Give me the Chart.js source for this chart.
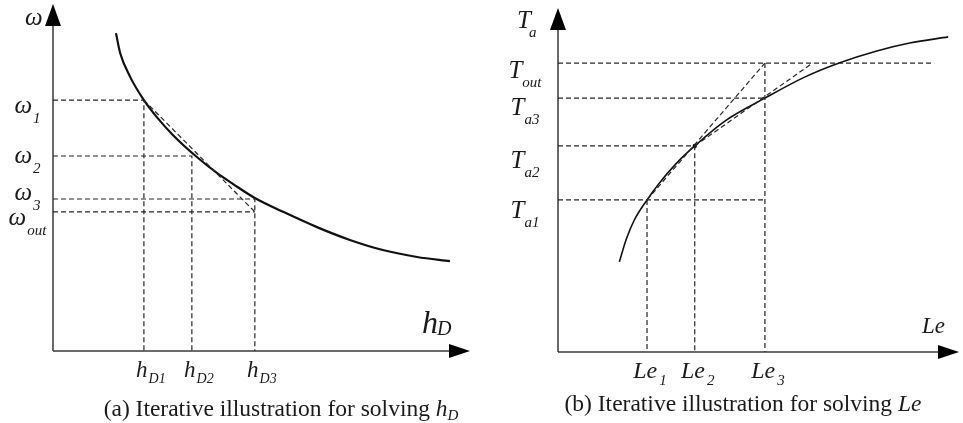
<!DOCTYPE html>
<html>
<head>
<meta charset="utf-8">
<script src="https://cdn.jsdelivr.net/npm/chart.js@4/dist/chart.umd.min.js"></script>
<style>
  html, body { margin: 0; padding: 0; background: #fff; }
  #wrap { position: relative; width: 963px; height: 423px; overflow: hidden; }
  .panel { position: absolute; top: 0; }
</style>
</head>
<body>
<div id="wrap">
  <div class="panel" style="left:0;width:480px;height:423px"><canvas id="chartA" width="480" height="423"></canvas></div>
  <div class="panel" style="left:480px;width:483px;height:423px"><canvas id="chartB" width="483" height="423"></canvas></div>
</div>
<script>
// ---- Panel (a): ω falling with h_D ----
const hdCurveX = [1.51, 1.61, 1.85, 2.18, 2.49, 2.88, 3.45, 3.93, 4.32, 4.84, 5.52, 6.33, 7.12, 7.91, 8.73, 9.52];
const hdCurveY = [9.16, 8.59, 7.90, 7.23, 6.74, 6.22, 5.59, 5.13, 4.81, 4.41, 4.01, 3.57, 3.20, 2.91, 2.71, 2.59];
const hdSteps = [2.18, 3.33, 4.84];            // h_D1, h_D2, h_D3
const omegaSteps = [7.23, 5.62, 4.38, 4.01];   // ω1, ω2, ω3, ω_out
const hdTickSubs = ['D1', 'D2', 'D3'];
const omegaTickSubs = ['1', '2', '3', 'out'];

// ---- Panel (b): T_a rising with Le ----
const leCurveX = [1.53, 1.70, 1.90, 2.22, 2.52, 2.94, 3.41, 4.17, 5.16, 6.15, 7.01, 7.95, 8.77, 9.73];
const leCurveY = [2.62, 3.27, 3.83, 4.42, 4.90, 5.47, 5.99, 6.72, 7.38, 7.99, 8.40, 8.75, 8.98, 9.16];
const leSteps = [2.22, 3.41, 5.16];            // Le1, Le2, Le3
const taSteps = [4.42, 5.99, 7.38, 8.40];      // T_a1, T_a2, T_a3, T_out
const leTickSubs = ['1', '2', '3'];
const taTickSubs = ['a1', 'a2', 'a3', 'out'];
const toutGuideEnd = 9.38;    // right end of the T_out guide
const secant2End = 6.35;      // where the second secant reaches T_out

const SERIF = '"Liberation Serif", "Times New Roman", serif';
const INK = '#1a1a1a';

const pts = (xs, ys) => xs.map((x, i) => ({ x, y: ys[i] }));
const P = (x, y) => ({ x, y });

function curveSet(data, width) {
  return { data, showLine: true, borderColor: '#111', borderWidth: width, pointRadius: 0,
           cubicInterpolationMode: 'monotone', clip: false };
}
function guideSet(data) {
  return { data, showLine: true, borderColor: '#262626', borderWidth: 1.2, borderDash: [5, 3],
           pointRadius: 0, tension: 0, clip: false };
}

function drawAxes(chart) {
  const { ctx, chartArea: a, scales } = chart;
  const x0 = scales.x.getPixelForValue(0), y0 = scales.y.getPixelForValue(0);
  ctx.save();
  ctx.strokeStyle = '#3a3a3a';
  ctx.lineWidth = 1.5;
  ctx.beginPath();
  ctx.moveTo(x0, y0); ctx.lineTo(x0, a.top + 18);
  ctx.moveTo(x0, y0); ctx.lineTo(a.right - 18, y0);
  ctx.stroke();
  ctx.fillStyle = '#000';
  ctx.beginPath();
  ctx.moveTo(x0, a.top); ctx.lineTo(x0 - 8, a.top + 22); ctx.lineTo(x0 + 8, a.top + 22);
  ctx.closePath(); ctx.fill();
  ctx.beginPath();
  ctx.moveTo(a.right, y0); ctx.lineTo(a.right - 21, y0 - 7); ctx.lineTo(a.right - 21, y0 + 7);
  ctx.closePath(); ctx.fill();
  ctx.restore();
}

// base glyph followed by a lowered subscript, centred on cx
function subLabel(ctx, base, sub, cx, baseY, subDy, baseSize, subSize, gap) {
  gap = gap || 0;
  ctx.font = 'italic ' + baseSize + 'px ' + SERIF;
  const wb = ctx.measureText(base).width;
  ctx.font = 'italic ' + subSize + 'px ' + SERIF;
  const ws = ctx.measureText(sub).width;
  const left = cx - (wb + gap + ws) / 2;
  ctx.font = 'italic ' + baseSize + 'px ' + SERIF;
  ctx.fillText(base, left, baseY);
  ctx.font = 'italic ' + subSize + 'px ' + SERIF;
  ctx.fillText(sub, left + wb + gap, baseY + subDy);
}

function caption(ctx, plain, ital, sub, cx, baseY) {
  const size = 23.5;
  ctx.font = size + 'px ' + SERIF;
  const w1 = ctx.measureText(plain).width;
  ctx.font = 'italic ' + size + 'px ' + SERIF;
  const w2 = ctx.measureText(ital).width;
  ctx.font = 'italic 15px ' + SERIF;
  const w3 = sub ? ctx.measureText(sub).width : 0;
  let x = cx - (w1 + w2 + w3) / 2;
  ctx.font = size + 'px ' + SERIF; ctx.fillText(plain, x, baseY); x += w1;
  ctx.font = 'italic ' + size + 'px ' + SERIF; ctx.fillText(ital, x, baseY); x += w2;
  if (sub) { ctx.font = 'italic 15px ' + SERIF; ctx.fillText(sub, x, baseY + 4); }
}

const axesPlugin = { id: 'arrowAxes', beforeDatasetsDraw: drawAxes };

const labelsA = {
  id: 'labelsA',
  afterDatasetsDraw(chart) {
    const { ctx, scales } = chart;
    const x0 = scales.x.getPixelForValue(0), y0 = scales.y.getPixelForValue(0);
    ctx.save();
    ctx.fillStyle = INK;
    ctx.textBaseline = 'alphabetic';
    const nudge = [13, 7, 1, 13];
    omegaSteps.forEach((v, i) => {
      subLabel(ctx, 'ω', omegaTickSubs[i], x0 - 25.5, scales.y.getPixelForValue(v) + nudge[i], 10, 25, 15, 1);
    });
    hdSteps.forEach((v, i) => {
      subLabel(ctx, 'h', hdTickSubs[i], scales.x.getPixelForValue(v) + 7, y0 + 26, 6, 23, 14, 1);
    });
    ctx.font = 'italic 25px ' + SERIF;
    ctx.fillText('ω', x0 - 28, 25);
    ctx.font = 'italic 32px ' + SERIF;
    ctx.fillText('h', 422, 333);
    ctx.font = 'italic 20px ' + SERIF;
    ctx.fillText('D', 437, 335);
    caption(ctx, '(a) Iterative illustration for solving ', 'h', 'D', 281, 416);
    ctx.restore();
  }
};

const labelsB = {
  id: 'labelsB',
  afterDatasetsDraw(chart) {
    const { ctx, scales } = chart;
    const x0 = scales.x.getPixelForValue(0), y0 = scales.y.getPixelForValue(0);
    ctx.save();
    ctx.fillStyle = INK;
    ctx.textBaseline = 'alphabetic';
    const nudge = [18, 22, 17, 15];
    taSteps.forEach((v, i) => {
      subLabel(ctx, 'T', taTickSubs[i], x0 - 33, scales.y.getPixelForValue(v) + nudge[i], 9, 25, 15);
    });
    leSteps.forEach((v, i) => {
      subLabel(ctx, 'Le', leTickSubs[i], scales.x.getPixelForValue(v) + 3, y0 + 26, 7, 24, 15, 2);
    });
    ctx.font = 'italic 25px ' + SERIF;
    ctx.fillText('T', x0 - 41, 28);
    ctx.font = 'italic 15px ' + SERIF;
    ctx.fillText('a', x0 - 29, 37);
    ctx.font = 'italic 23px ' + SERIF;
    ctx.fillText('Le', 442, 333);
    caption(ctx, '(b) Iterative illustration for solving ', 'Le', '', 263, 411);
    ctx.restore();
  }
};

function baseOptions(padding) {
  return {
    responsive: false,
    animation: false,
    events: [],
    devicePixelRatio: 1,
    layout: { padding },
    scales: {
      x: { type: 'linear', min: 0, max: 10, display: false },
      y: { type: 'linear', min: 0, max: 10, display: false }
    },
    plugins: { legend: { display: false }, tooltip: { enabled: false } }
  };
}

// ---- panel (a) ----
const [h1, h2, h3] = hdSteps;
const [w1, w2, w3, wOut] = omegaSteps;
new Chart(document.getElementById('chartA'), {
  type: 'scatter',
  data: {
    datasets: [
      guideSet([P(0, w1), P(h1, w1), P(h1, 0)]),
      guideSet([P(0, w2), P(h2, w2), P(h2, 0)]),
      guideSet([P(0, w3), P(h3, w3), P(h3, 0)]),
      guideSet([P(0, wOut), P(h3, wOut)]),
      guideSet([P(h1, w1), P(h3, wOut)]),
      curveSet(pts(hdCurveX, hdCurveY), 2.2)
    ]
  },
  options: baseOptions({ left: 53, right: 10, top: 4, bottom: 72 }),
  plugins: [axesPlugin, labelsA]
});

// ---- panel (b) ----
const [l1, l2, l3] = leSteps;
const [t1, t2, t3, tOut] = taSteps;
new Chart(document.getElementById('chartB'), {
  type: 'scatter',
  data: {
    datasets: [
      guideSet([P(0, t1), P(l3, t1)]),
      guideSet([P(l1, t1), P(l1, 0)]),
      guideSet([P(0, t2), P(l2, t2), P(l2, 0)]),
      guideSet([P(0, t3), P(l3, t3)]),
      guideSet([P(0, tOut), P(toutGuideEnd, tOut)]),
      guideSet([P(l3, tOut), P(l3, 0)]),
      guideSet([P(l1, t1), P(l3, tOut)]),
      guideSet([P(l2, t2), P(secant2End, tOut)]),
      curveSet(pts(leCurveX, leCurveY), 1.6),
      { data: [P(l2, t2)], showLine: false, pointRadius: 2.2, pointBackgroundColor: '#111',
        pointBorderWidth: 0, clip: false }
    ]
  },
  options: baseOptions({ left: 78, right: 0, top: 8, bottom: 71 }),
  plugins: [axesPlugin, labelsB]
});
</script>
</body>
</html>
